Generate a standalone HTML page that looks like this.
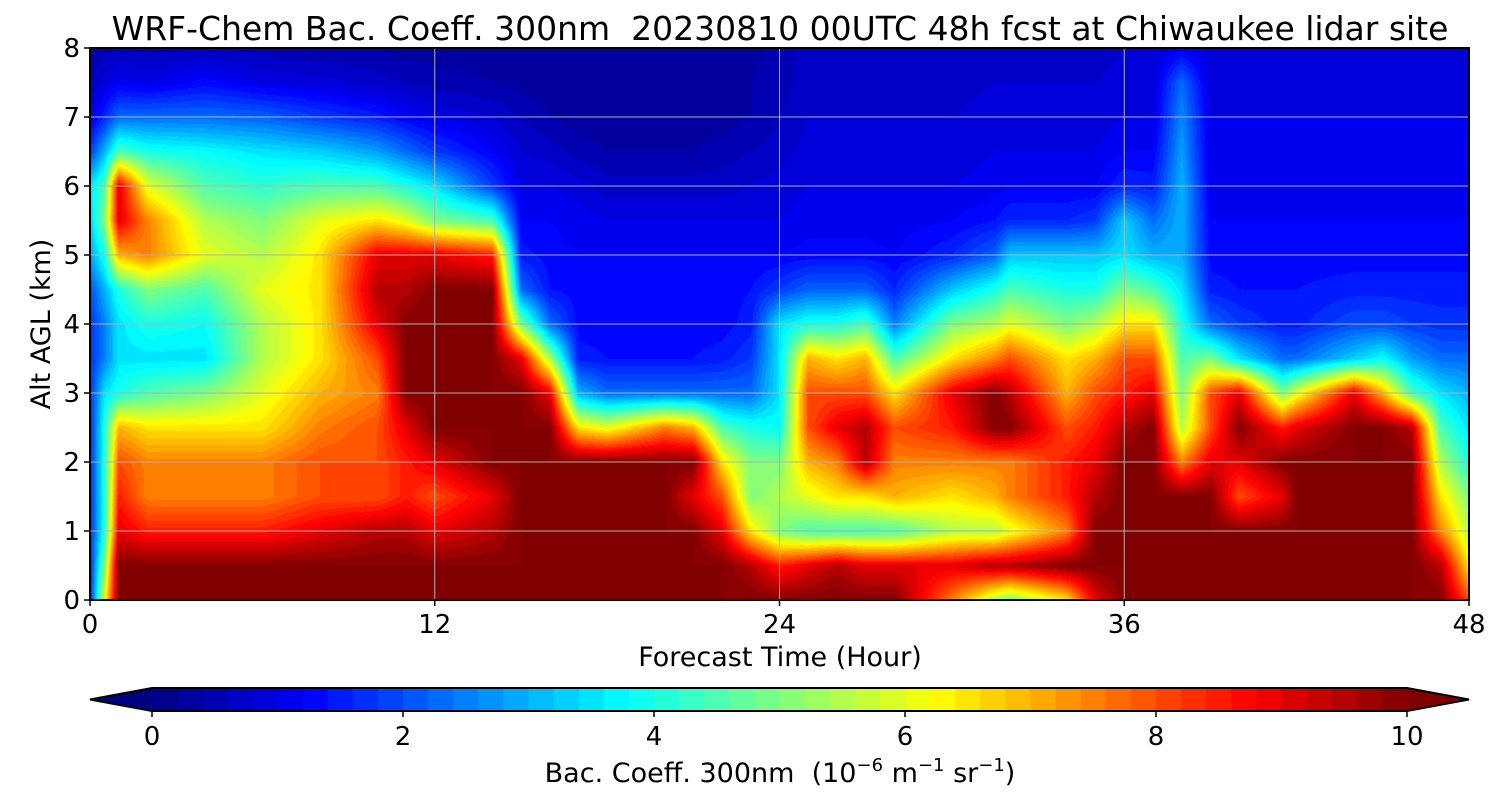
<!DOCTYPE html>
<html><head><meta charset="utf-8">
<style>
body{margin:0;background:#fff;width:1500px;height:800px;overflow:hidden;font-family:"DejaVu Sans","Liberation Sans",sans-serif;}
#wrap{position:relative;width:1500px;height:800px;}
</style></head>
<body>
<div id="wrap">
<svg id="svg" width="1500" height="800" style="position:absolute;left:0;top:0;font-family:'DejaVu Sans','Liberation Sans',sans-serif"></svg>
</div>
<script>
const times = [0,0.5,1,2,4,6,8,10,11,12,14,15,16,17,18,20,21,22,23,24,25,26,27,28,30,31.5,32,34,35,36,37,38,39,40,41.5,42,44,45,46,47,48];
const altitudes = [0,0.5,1,1.5,2,2.5,3,3.5,4,4.5,5,5.5,6,6.5,7,7.5,8];
const values = [
[1.5,1.5,1.6,1.6,1.6,1.6,1.7,1.7,1.7,2,2.8,3.3,3.5,1.8,1,0.6,0.4],
[6,5,4,4,4,4,3.5,2.5,2.5,3,4,5,4.5,3,1.6,0.9,0.5],
[10,10,9,8.5,8,7,4,3.5,3.5,4,7,9,9,4.5,2.3,1.1,0.6],
[10,10,8.5,7.5,7.5,6.5,4.5,3.5,4,5,7.5,7.5,6,4,2.3,1,0.5],
[10,10,8.5,7.5,7.5,6.5,5,3.5,3.8,4.5,6,5.5,4.5,3.8,2.3,1.3,0.6],
[10,10,8.5,7.5,7.5,6.5,6,5.5,5.5,6,5.5,5,4.2,3.5,2.2,1,0.5],
[10,10,9,8,8,7.5,7,6.5,6.5,6.5,6.5,6,4.5,3.3,1.8,0.9,0.4],
[10,10,9.5,8,8,8,7.5,8,9,9.5,9,6.5,4.5,2.8,1.5,0.7,0.4],
[10,10,9.5,8.5,8.5,9,10,10,10,9.5,9,6,4,2.3,1.2,0.6,0.3],
[10,10,9,8,9,10,10,10,10,10,9,5,3.5,1.8,1,0.5,0.3],
[10,10,9.5,9,10,10,10,10,10,10,8.5,4.5,1.8,1.2,0.8,0.4,0.3],
[10,10,10,10,10,10,10,9,5,2.3,1.5,1.2,1,0.8,0.6,0.3,0.3],
[10,10,10,10,10,10,9,5.5,2.3,1.4,1.3,1.2,1,0.7,0.4,0.3,0.3],
[10,10,10,10,10,6.5,3,1.5,1.3,1.3,1.2,1.1,0.9,0.5,0.3,0.3,0.3],
[10,10,10,10,10,6,2.3,1.4,1.3,1.3,1.2,1,0.7,0.4,0.3,0.3,0.3],
[10,10,10,10,10,7.5,2.3,1.4,1.3,1.3,1.2,1,0.7,0.4,0.3,0.3,0.3],
[10,10,10,9,10,7,2.3,1.4,1.3,1.3,1.2,1,0.7,0.4,0.3,0.3,0.3],
[10,10,9,8,6.5,4.5,2.3,1.5,1.3,1.3,1.2,1,0.7,0.5,0.3,0.3,0.3],
[10,9.5,6.5,5,5,4,2.3,1.8,1.5,1.4,1.2,1,0.8,0.6,0.4,0.4,0.3],
[10,8.5,5,5.5,5,3.8,3.5,3.5,3.5,1.8,1.2,1,0.9,0.7,0.6,0.5,0.5],
[10,9,4.5,6,7,8,8,7,4,2.2,1.3,1.1,1,0.9,0.8,0.7,0.7],
[10,9.5,4.5,6.5,7.5,9,8,6.5,4,2.2,1.3,1.1,1,0.9,0.8,0.7,0.7],
[10,9,4.5,6.5,9.5,9.5,8,7,4.5,2.2,1.3,1.1,1,0.9,0.8,0.7,0.7],
[10,9,4.5,7,7.5,8,6.5,4.5,2.5,1.6,1.2,1.1,1,0.9,0.8,0.7,0.7],
[7.5,9,5.5,6.5,7.5,8.5,9,6.5,5,3.2,1.6,1.2,1,0.9,0.8,0.7,0.7],
[5.5,9.5,5.5,7,7.5,10,10,7.5,5.5,4,2.2,1.4,1.1,1,0.9,0.8,0.7],
[5,9.5,6,7.5,7.5,10,9.5,8,6,4.5,3.2,1.6,1.2,1,0.9,0.8,0.7],
[6.5,10,7.5,8.5,8.5,8,7,6.5,5,4,3.2,1.6,1.2,1,0.9,0.8,0.7],
[9,10,10,9.5,9,8.5,8,7,5.5,4,3.2,1.8,1.2,1,0.9,0.8,0.7],
[10,10,10,10,10,9.5,8.5,8,6.5,5,3.5,3.3,1.6,1.2,1,0.9,0.8],
[10,10,10,10,10,10,9,8,6.5,4.5,3,2.3,1.5,1.2,1,0.9,0.8],
[10,10,10,10,7.5,5.5,5,4.5,4,3.5,3,3,3,2.8,2.6,2.3,1.1],
[10,10,10,10,9,8,8,5,2.3,1.5,1.3,1.2,1.1,1,1,0.9,0.9],
[10,10,10,8,9,10,9,3.5,1.8,1.4,1.3,1.2,1.1,1,1,0.9,0.9],
[10,10,10,9,10,8.5,5,2.3,1.5,1.4,1.3,1.2,1.1,1,1,0.9,0.9],
[10,10,10,10,10,9,6,2.3,1.5,1.4,1.3,1.2,1.1,1,1,0.9,0.9],
[10,10,10,10,10,10,9,3.3,2,1.5,1.3,1.2,1.1,1,1,0.9,0.9],
[10,10,10,10,10,10,7,3.8,2,1.5,1.3,1.2,1.1,1,1,0.9,0.9],
[10,10,10,10,10,9.5,4.5,2.8,1.8,1.5,1.3,1.2,1.1,1,1,0.9,0.9],
[10,9.5,7.5,6.5,5.5,4.5,3.5,2.3,1.7,1.5,1.3,1.2,1.1,1,1,0.9,0.9],
[8,6.5,5.5,5,4,3.5,3,2.3,1.7,1.5,1.3,1.2,1.1,1,1,0.9,0.9]
];
const xTicks = [0,12,24,36,48];
const yTicks = [0,1,2,3,4,5,6,7,8];
const cbTicks = [0,2,4,6,8,10];

const PL=90,PT=48,PW=1379,PH=552;
const xs = t => PL + t/48*PW;
const ys = a => PT + PH - a/8*PH;
const CBL=152,CBR=1407,CBT=688,CBB=711;
const cbx = v => CBL + v/10*(CBR-CBL);

function jet(f){
  f=Math.max(0,Math.min(1,f));
  const r=Math.max(0,Math.min(1,1.5-Math.abs(4*f-3)));
  const g=Math.max(0,Math.min(1,1.5-Math.abs(4*f-2)));
  const b=Math.max(0,Math.min(1,1.5-Math.abs(4*f-1)));
  return [Math.round(r*255),Math.round(g*255),Math.round(b*255)];
}
const NL=50;
function levelColor(v){
  if(v>=10) return [128,0,0];
  if(v<0) return [0,0,128];
  const k=Math.min(NL-1,Math.floor(v/10*NL));
  return jet((k+0.5)/NL);
}
function valueAt(t,a){
  let i=0; while(i<times.length-2 && t>times[i+1]) i++;
  let j=0; while(j<altitudes.length-2 && a>altitudes[j+1]) j++;
  const u=(t-times[i])/(times[i+1]-times[i]);
  const w=(a-altitudes[j])/(altitudes[j+1]-altitudes[j]);
  const v00=values[i][j],v10=values[i+1][j],v01=values[i][j+1],v11=values[i+1][j+1];
  return (v00*(1-u)+v10*u)*(1-w)+(v01*(1-u)+v11*u)*w;
}
const NS="http://www.w3.org/2000/svg";
const svg=document.getElementById('svg');
function mk(tag,attrs){const e=document.createElementNS(NS,tag);for(const k in attrs)e.setAttribute(k,attrs[k]);svg.appendChild(e);return e;}

const cv=document.createElement('canvas');
cv.width=PW;cv.height=PH;
cv.style.position='absolute';cv.style.left=PL+'px';cv.style.top=PT+'px';


document.getElementById('wrap').insertBefore(cv,svg);
const ctx=cv.getContext('2d');
const img=ctx.createImageData(PW,PH);
for(let py=0;py<PH;py++){
  const a=(PH-py-0.5)/PH*8;
  for(let px=0;px<PW;px++){
    const t=(px+0.5)/PW*48;
    const c=levelColor(valueAt(t,a));
    const o=(py*PW+px)*4;
    img.data[o]=c[0];img.data[o+1]=c[1];img.data[o+2]=c[2];img.data[o+3]=255;
  }
}
ctx.putImageData(img,0,0);

xTicks.forEach(t=>{
  if(t>0&&t<48){
    const l=mk('line',{x1:xs(t),x2:xs(t),y1:PT,y2:PT+PH,stroke:'#b0b0b0','stroke-width':1});
    
    
  }
});
yTicks.forEach(a=>{
  if(a>0&&a<8){
    const l=mk('line',{x1:PL,x2:PL+PW,y1:ys(a),y2:ys(a),stroke:'#b0b0b0','stroke-width':1});
    
    
  }
});
const frame=mk('rect',{x:PL,y:PT,width:PW,height:PH,fill:'none',stroke:'#000','stroke-width':2});



xTicks.forEach(t=>{
  mk('line',{x1:xs(t),x2:xs(t),y1:PT+PH,y2:PT+PH+6,stroke:'#000','stroke-width':1.5});
  const tx=mk('text',{x:xs(t),y:PT+PH+33,'text-anchor':'middle','font-size':26,fill:'#000'});
  tx.textContent=t;
  
  
});
yTicks.forEach(a=>{
  mk('line',{x1:PL-6,x2:PL,y1:ys(a),y2:ys(a),stroke:'#000','stroke-width':1.5});
  const tx=mk('text',{x:PL-10,y:ys(a)+9,'text-anchor':'end','font-size':26,fill:'#000'});
  tx.textContent=a;
  
  
});
let e=mk('text',{x:780,y:40,'text-anchor':'middle','font-size':33,fill:'#000'});
e.textContent='WRF-Chem Bac. Coeff. 300nm  20230810 00UTC 48h fcst at Chiwaukee lidar site';
e.setAttribute('style','white-space:pre');


e=mk('text',{x:780,y:666,'text-anchor':'middle','font-size':27,fill:'#000'});
e.textContent='Forecast Time (Hour)';


e=mk('text',{x:0,y:0,'text-anchor':'middle','font-size':27,fill:'#000',transform:'translate(50,324) rotate(-90)'});
e.textContent='Alt AGL (km)';



for(let k=0;k<NL;k++){
  const c=jet((k+0.5)/NL);
  const r=mk('rect',{x:cbx(k*10/NL),y:CBT,width:(CBR-CBL)/NL+0.6,height:CBB-CBT,fill:`rgb(${c[0]},${c[1]},${c[2]})`});
  
  
}
e=mk('polygon',{points:`${CBL},${CBT} ${CBL},${CBB} 90,${(CBT+CBB)/2}`,fill:'#000080'});


e=mk('polygon',{points:`${CBR},${CBT} ${CBR},${CBB} 1469,${(CBT+CBB)/2}`,fill:'#800000'});


e=mk('polygon',{points:`90,${(CBT+CBB)/2} ${CBL},${CBT} ${CBR},${CBT} 1469,${(CBT+CBB)/2} ${CBR},${CBB} ${CBL},${CBB}`,fill:'none',stroke:'#000','stroke-width':2});


cbTicks.forEach(v=>{
  mk('line',{x1:cbx(v),x2:cbx(v),y1:CBB,y2:CBB+6,stroke:'#000','stroke-width':1.5});
  const tx=mk('text',{x:cbx(v),y:CBB+34,'text-anchor':'middle','font-size':26,fill:'#000'});
  tx.textContent=v;
  
  
});
e=mk('text',{x:780,y:782,'text-anchor':'middle','font-size':27,fill:'#000'});
e.setAttribute('style','white-space:pre');
e.innerHTML='Bac. Coeff. 300nm  (10<tspan dy="-11" font-size="18">−6</tspan><tspan dy="11"> m</tspan><tspan dy="-11" font-size="18">−1</tspan><tspan dy="11"> sr</tspan><tspan dy="-11" font-size="18">−1</tspan><tspan dy="11">)</tspan>';


</script>
</body></html>
